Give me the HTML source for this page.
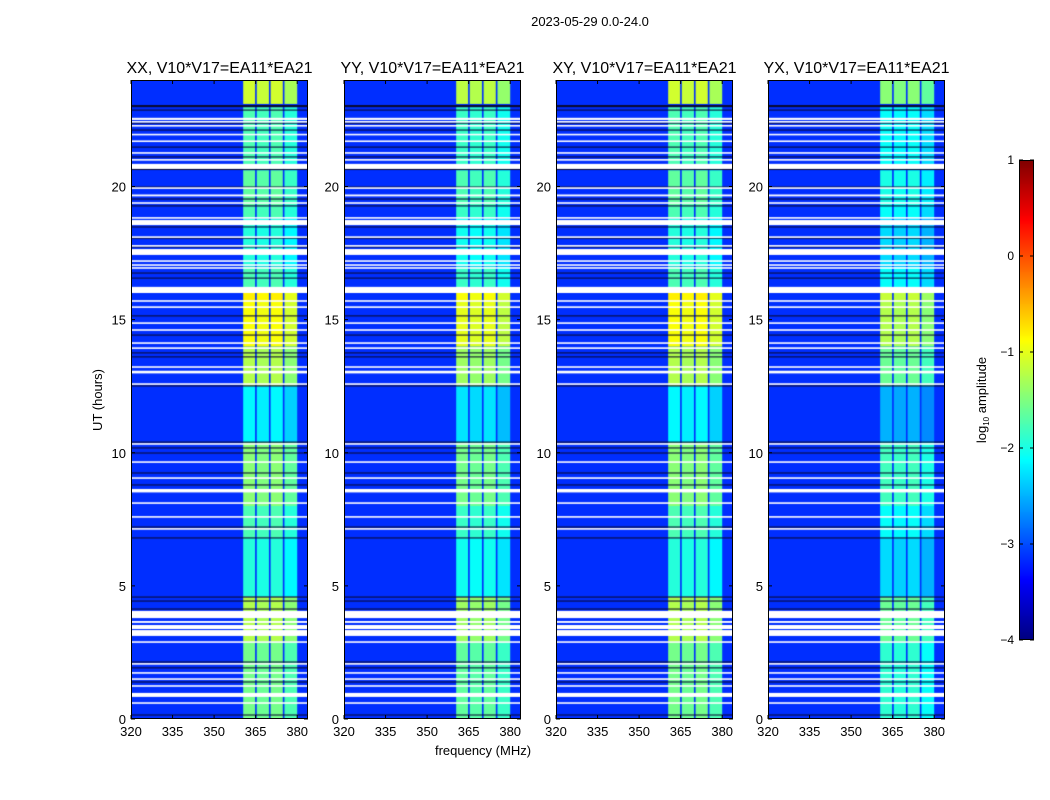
<!DOCTYPE html>
<html><head><meta charset="utf-8">
<style>
body{margin:0;background:#fff;width:1050px;height:800px;overflow:hidden;font-family:"Liberation Sans",sans-serif}
#wrap{position:relative;width:1050px;height:800px}
canvas{position:absolute}
svg{position:absolute;left:0;top:0}
</style></head>
<body>
<div id="wrap">
<svg id="ov" width="1050" height="800"></svg>
</div>
<script>
// ---- data ----
const panelTitles = ["XX, V10*V17=EA11*EA21","YY, V10*V17=EA11*EA21","XY, V10*V17=EA11*EA21","YX, V10*V17=EA11*EA21"];
const panelOffsets = [0, -0.1, 0, -0.35];
const xTicks = [320,335,350,365,380];
const yTicks = [0,5,10,15,20];
const cbTicks = [1,0,-1,-2,-3,-4];
const backgroundLevel = -3.15;
const bandFreqs = [[360.5,364.8],[365.4,369.8],[370.4,374.8],[375.4,380.0]];
const bandWeights = [0.05, 0, 0.05, -0.15];
const segStart = [0, 2.9, 4.6, 6.8, 8.0, 10.4, 12.5, 14.0, 15.7, 16.2, 17.0, 18.8, 19.3, 20.6, 23.1];
const segEnd   = [2.9, 4.6, 6.8, 8.0, 10.4, 12.5, 14.0, 15.7, 16.0, 17.0, 18.8, 19.3, 20.6, 22.98, 24];
const segLevel = [-1.6,-1.3,-2.0,-1.8,-1.5,-2.2,-1.3,-0.95,-0.85,-1.8,-2.0,-1.8,-1.7,-1.8,-1.15];
const flagStart = [22.50,22.40,22.25,21.92,21.67,21.23,20.97,20.66,19.91,19.63,19.35,18.79,18.55,18.07,17.74,17.43,17.17,17.02,16.91,16.00,15.67,15.44,14.84,14.58,14.09,13.90,13.19,12.98,12.55,10.30,9.62,9.02,8.51,8.08,7.56,7.11,3.79,3.61,3.38,3.12,2.86,2.04,1.70,1.47,1.21,0.83,0.57];
const flagEnd   = [22.58,22.46,22.31,21.98,21.73,21.29,21.03,20.85,19.97,19.70,19.41,18.85,18.74,18.13,17.80,17.65,17.23,17.08,16.97,16.23,15.73,15.50,14.90,14.64,14.15,13.96,13.25,13.08,12.61,10.36,9.68,9.08,8.64,8.14,7.62,7.17,4.06,3.68,3.53,3.34,2.92,2.10,1.76,1.53,1.27,0.98,0.63];
const darkLines = [23.02,22.87,22.38,22.12,21.48,21.11,20.64,19.98,19.53,19.27,18.48,18.06,17.73,16.75,16.56,15.14,14.42,13.75,13.60,12.51,10.40,10.18,9.99,9.24,8.79,7.21,6.80,4.58,4.43,4.13,2.14,1.92,1.39,0.15];
const darkWidth = [0.08,0.04,0.04,0.04,0.04,0.04,0.04,0.04,0.04,0.04,0.04,0.04,0.04,0.04,0.04,0.04,0.04,0.04,0.04,0.04,0.04,0.04,0.04,0.04,0.04,0.04,0.04,0.04,0.04,0.04,0.04,0.04,0.04,0.04];

// ---- layout ----
const panelLeft = [131,344,556,768];
const PW = 177, PT = 80, PB = 719;
const fMin = 320, fMax = 320 + PW/2.77;
const tMin = 0, tMax = 24;
const vMin = -4, vMax = 1;
const CBX = 1019, CBW = 15, CBT = 160, CBB = 640;

function jet(v){
  let t = (v - vMin)/(vMax - vMin); t = Math.max(0, Math.min(1, t));
  const c = x => Math.round(255*Math.max(0, Math.min(1, x)));
  return `rgb(${c(1.5-Math.abs(4*t-3))},${c(1.5-Math.abs(4*t-2))},${c(1.5-Math.abs(4*t-1))})`;
}
const xs = f => (f - fMin)/(fMax - fMin)*PW;
const ys = h => (PB-PT) - (h - tMin)/(tMax - tMin)*(PB-PT);

const wrap = document.getElementById('wrap');
const ov = document.getElementById('ov');
const NS = 'http://www.w3.org/2000/svg';
function sv(tag, attrs, parent){ const e=document.createElementNS(NS,tag); for(const k in attrs) e.setAttribute(k,attrs[k]); (parent||ov).appendChild(e); return e; }
function txt(x,y,s,size,anchor,name){
  const e = sv('text',{x:x,y:y,'font-size':size,'text-anchor':anchor||'middle','font-family':'Liberation Sans, sans-serif',fill:'#000'});
  e.textContent = s;
  
  
  return e;
}

panelLeft.forEach((L, p) => {
  const cv = document.createElement('canvas');
  cv.width = PW; cv.height = PB-PT;
  cv.style.left = L+'px'; cv.style.top = PT+'px';
  
  
  wrap.insertBefore(cv, ov);
  const g = cv.getContext('2d');
  g.fillStyle = jet(backgroundLevel); g.fillRect(0,0,PW,PB-PT);
  segStart.forEach((s,i) => {
    bandFreqs.forEach((b,j) => {
      g.fillStyle = jet(segLevel[i] + panelOffsets[p] + bandWeights[j]);
      const y1 = ys(segEnd[i]), y2 = ys(s);
      g.fillRect(xs(b[0]), y1, xs(b[1])-xs(b[0]), y2-y1);
    });
  });
  darkLines.forEach((h,i) => {
    g.fillStyle = '#0a0a30';
    const y1 = ys(h + darkWidth[i]/2), y2 = ys(h - darkWidth[i]/2);
    g.fillRect(0, y1, PW, Math.max(1, y2-y1));
  });
  flagStart.forEach((s,i) => {
    g.fillStyle = '#fff';
    const y1 = ys(flagEnd[i]), y2 = ys(s);
    g.fillRect(0, y1, PW, Math.max(1.5, y2-y1));
  });
  const fr = sv('rect',{x:L+0.5,y:PT+0.5,width:PW-1,height:PB-PT-1,fill:'none',stroke:'#000','stroke-width':1});
  
  
  xTicks.forEach(f => {
    const x = L + xs(f);
    sv('line',{x1:x,x2:x,y1:PB,y2:PB-4,stroke:'#000'});
    sv('line',{x1:x,x2:x,y1:PT,y2:PT+4,stroke:'#000'});
    txt(x, PB+17, String(f), 13, 'middle', 'x-tick-label');
  });
  yTicks.forEach(h => {
    const y = PT + ys(h);
    sv('line',{x1:L,x2:L+4,y1:y,y2:y,stroke:'#000'});
    sv('line',{x1:L+PW-4,x2:L+PW,y1:y,y2:y,stroke:'#000'});
    txt(L-5, y+5, String(h), 13, 'end', 'y-tick-label');
  });
  txt(L+PW/2, 73, panelTitles[p], 16, 'middle', 'panel-title');
});

txt(590, 26, '2023-05-29 0.0-24.0', 13, 'middle', 'figure-title');
txt(483, 755, 'frequency (MHz)', 13, 'middle', 'x-axis-title');
const yl = txt(0, 0, 'UT (hours)', 13, 'middle', 'y-axis-title');
yl.setAttribute('transform','translate(102,400) rotate(-90)');

// colorbar
const cbH = CBB - CBT;
const cb = document.createElement('canvas');
cb.width = CBW; cb.height = cbH;
cb.style.left = CBX+'px'; cb.style.top = CBT+'px';


wrap.insertBefore(cb, ov);
const cg = cb.getContext('2d');
for (let i = 0; i < cbH; i++){
  cg.fillStyle = jet(vMax - (i+0.5)/cbH*(vMax - vMin));
  cg.fillRect(0, i, CBW, 1);
}
sv('rect',{x:CBX+0.5,y:CBT+0.5,width:CBW-1,height:cbH-1,fill:'none',stroke:'#000'});
cbTicks.forEach(v => {
  const y = CBT + (vMax - v)/(vMax - vMin)*cbH;
  sv('line',{x1:CBX,x2:CBX+4,y1:y,y2:y,stroke:'#000'});
  sv('line',{x1:CBX+CBW-4,x2:CBX+CBW,y1:y,y2:y,stroke:'#000'});
  txt(CBX-5, y+4, String(v).replace('-', '\u2212'), 12, 'end', 'colorbar-tick-label');
});
const cl = sv('text',{'font-size':13,'text-anchor':'middle','font-family':'Liberation Sans, sans-serif',transform:'translate(986,400) rotate(-90)'});


cl.innerHTML = 'log<tspan font-size="8" dy="3">10</tspan><tspan dy="-3"> amplitude</tspan>';
</script>
</body></html>
